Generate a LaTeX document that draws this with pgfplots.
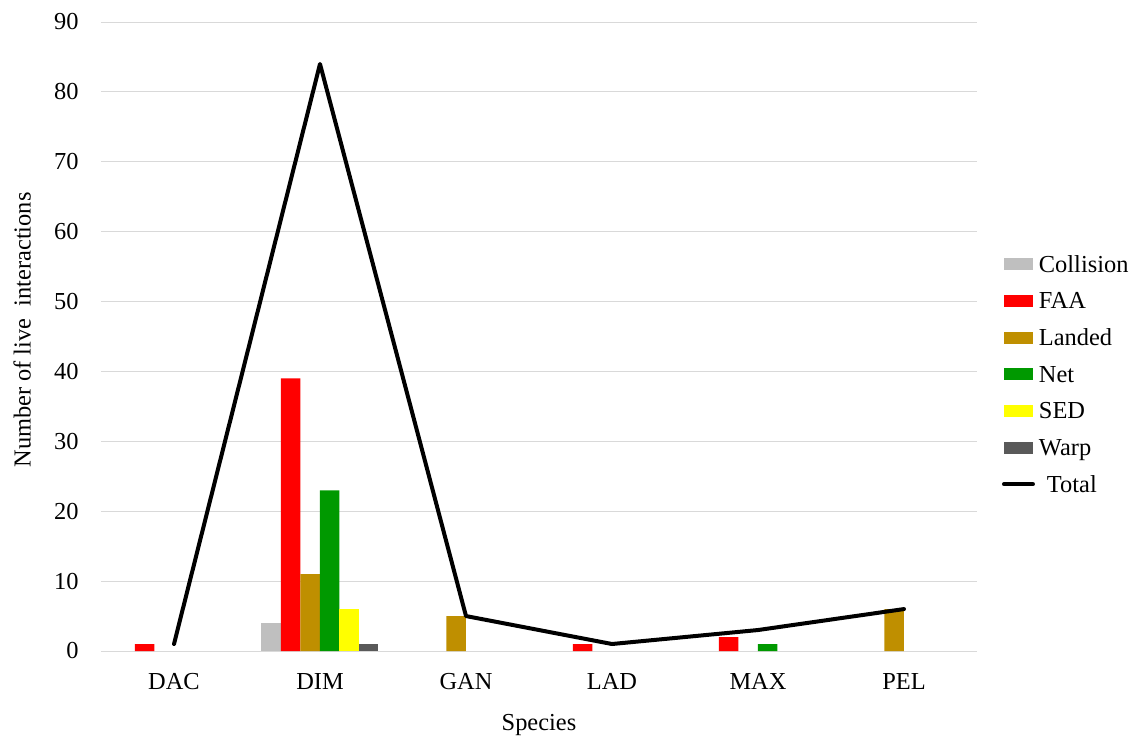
\documentclass[border=0pt]{standalone}
\usepackage{fontspec}
\setmainfont{Liberation Serif}
\usepackage{pgfplots}
\pgfplotsset{compat=1.18}

\definecolor{cCollision}{HTML}{BFBFBF}
\definecolor{cFAA}{HTML}{FF0000}
\definecolor{cLanded}{HTML}{BF8F00}
\definecolor{cNet}{HTML}{009900}
\definecolor{cSED}{HTML}{FFFF00}
\definecolor{cWarp}{HTML}{595959}
\definecolor{cGrid}{HTML}{D9D9D9}

\newcommand\cf{\fontsize{12.2pt}{14.6pt}\selectfont}

\pgfplotsset{
  barbox/.style={
    ybar, bar width=9.75pt, draw=none, fill=#1,
    legend image code/.code={\fill[##1] (0pt,-3pt) rectangle (14.5pt,3pt);}
  },
  linelegend/.style={
    legend image code/.code={\draw[##1] (0pt,0pt) -- (14.5pt,0pt);}
  },
}

\begin{document}
\begin{tikzpicture}
\begin{axis}[
  at={(0,0)}, anchor=south west,
  scale only axis,
  width=438pt, height=314.5pt,
  xmin=-0.5, xmax=5.5,
  ymin=0, ymax=90,
  xtick={0,1,2,3,4,5},
  xticklabels={DAC,DIM,GAN,LAD,MAX,PEL},
  ytick={0,10,...,90},
  /pgf/number format/assume math mode=true,
  axis line style={draw=none},
  major tick length=0pt,
  tick style={draw=none},
  ymajorgrids,
  major grid style={cGrid, line width=0.5pt},
  xticklabel style={font=\cf, anchor=base, inner sep=0pt, yshift=-19.15pt},
  yticklabel style={font=\cf, anchor=east, inner sep=0pt, xshift=-11pt},
  xlabel={Species},
  ylabel={Number of live~ interactions},
  every axis x label/.style={at={(axis description cs:0.5,0)}, anchor=base, yshift=-39.85pt, font=\cf},
  every axis y label/.style={at={(axis description cs:-0.08025,0.5103)}, anchor=base, rotate=90, font=\cf},
  legend style={
    at={(1.0285,0.44)}, anchor=west,
    draw=none, fill=none, inner sep=0pt, outer sep=0pt,
    row sep=10.33pt, column sep=2pt,
    nodes={font=\cf, inner sep=0pt, text height=8pt, text depth=0pt},
  },
  legend cell align=left,
  clip=false,
]
% interaction types, one bar series each (zero counts are left out)
\addplot[barbox=cCollision, bar shift=-24.375pt] coordinates {(1,4)};
\addlegendentry{Collision}
\addplot[barbox=cFAA, bar shift=-14.625pt] coordinates {(0,1) (1,39) (3,1) (4,2)};
\addlegendentry{FAA}
\addplot[barbox=cLanded, bar shift=-4.875pt] coordinates {(1,11) (2,5) (5,6)};
\addlegendentry{Landed}
\addplot[barbox=cNet, bar shift=4.875pt] coordinates {(1,23) (4,1)};
\addlegendentry{Net}
\addplot[barbox=cSED, bar shift=14.625pt] coordinates {(1,6)};
\addlegendentry{SED}
\addplot[barbox=cWarp, bar shift=24.375pt] coordinates {(1,1)};
\addlegendentry{Warp}
% total per species
\addplot[black, line width=2pt, line join=round, line cap=round, mark=none, linelegend]
  coordinates {(0,1) (1,84) (2,5) (3,1) (4,3) (5,6)};
\addlegendentry{\hspace{4pt}Total}
\end{axis}
\pgfresetboundingbox
\path (-50.5pt,-42pt) rectangle (515.5pt,325.5pt);
\end{tikzpicture}
\end{document}
